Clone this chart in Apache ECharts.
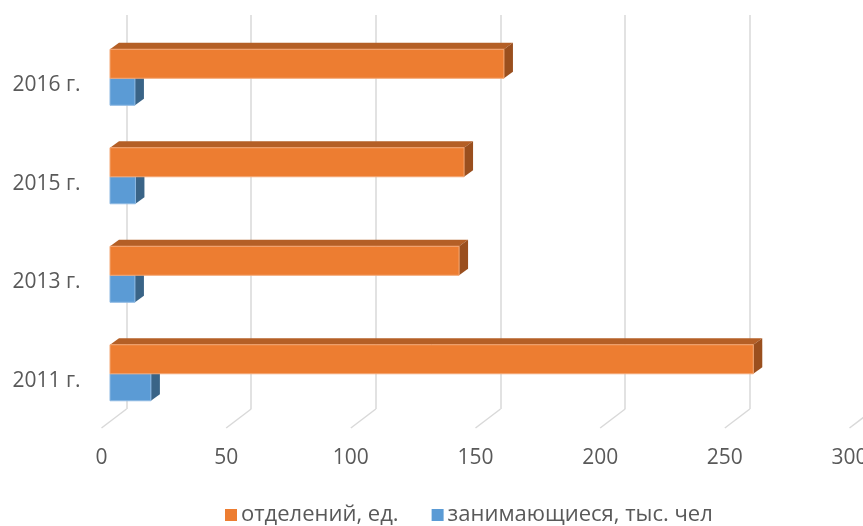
<!DOCTYPE html>
<html>
<head>
<meta charset="utf-8">
<script src="https://cdn.jsdelivr.net/npm/echarts@6/dist/echarts.min.js"></script>
<style>html,body{margin:0;padding:0;background:#fff}#c{width:863px;height:526px}</style>
</head>
<body>
<div id="c"></div>
<script>
const categories = ['2011 г.', '2013 г.', '2015 г.', '2016 г.'];
const otdeleniy = [258, 140, 142, 158];
const zanimayushchiesya = [16.4, 10, 10.2, 10];
const xTicks = [0, 50, 100, 150, 200, 250, 300];
const seriesNames = ['отделений, ед.', 'занимающиеся, тыс. чел'];

const FONT = 'Open Sans';
const TXT = '#595959';
const GRID = '#d9d9d9';
// projection offsets (px) from back wall to bar front face, and bar depth
const DX = -16.5, DY = 14;
const DEPTH_X = 9, DEPTH_Y = -6.5;
const H_UP = 29, H_DOWN = 27;

function barRender(front, top, side, stroke, upper) {
  return function (params, api) {
    const v = api.value(0), c = api.value(1);
    const p0 = api.coord([0, c]);
    const p1 = api.coord([v, c]);
    const x0 = p0[0] + DX, x1 = p1[0] + DX;
    const yb = p0[1] + DY;
    const yt = upper ? yb - H_UP : yb;
    const ybot = upper ? yb : yb + H_DOWN;
    return {
      type: 'group',
      children: [
        { type: 'polygon', shape: { points: [[x0, yt], [x0 + DEPTH_X, yt + DEPTH_Y], [x1 + DEPTH_X, yt + DEPTH_Y], [x1, yt]] }, style: { fill: top } },
        { type: 'polygon', shape: { points: [[x1, yt], [x1 + DEPTH_X, yt + DEPTH_Y], [x1 + DEPTH_X, ybot + DEPTH_Y], [x1, ybot]] }, style: { fill: side } },
        { type: 'rect', shape: { x: x0, y: yt, width: x1 - x0, height: ybot - yt }, style: { fill: front, stroke: stroke, lineWidth: 1 } }
      ]
    };
  };
}

const chart = echarts.init(document.getElementById('c'));
chart.setOption({
  animation: false,
  backgroundColor: '#fff',
  textStyle: { fontFamily: FONT },
  legend: {
    data: seriesNames,
    left: 220, top: 499,
    icon: 'rect', itemWidth: 12, itemHeight: 12, itemGap: 33,
    textStyle: { fontFamily: FONT, fontSize: 22, color: TXT, padding: [0, 0, 0, -1] }
  },
  grid: [
    { left: 126.5, width: 748, top: 15, height: 394, outerBoundsMode: 'none', containLabel: false },
    { left: 101.5, width: 748, top: 36, height: 394, outerBoundsMode: 'none', containLabel: false }
  ],
  xAxis: [
    { gridIndex: 0, type: 'value', min: 0, max: 300, interval: 50,
      axisLabel: { show: false }, axisLine: { show: false }, axisTick: { show: false },
      splitLine: { show: true, lineStyle: { color: GRID, width: 1.5 } } },
    { gridIndex: 1, type: 'value', min: 0, max: 300, interval: 50,
      axisLabel: { show: true, color: TXT, fontSize: 21, fontFamily: FONT, margin: 18 },
      axisLine: { show: false }, axisTick: { show: false }, splitLine: { show: false } }
  ],
  yAxis: [
    { gridIndex: 0, type: 'category', data: categories, show: false },
    { gridIndex: 1, type: 'category', data: categories,
      axisLabel: { color: TXT, fontSize: 21, fontFamily: FONT, margin: 21 },
      axisLine: { show: false }, axisTick: { show: false }, splitLine: { show: false } }
  ],
  series: [
    {
      type: 'custom', name: 'floor', xAxisIndex: 0, yAxisIndex: 0, silent: true, clip: false, z: 1,
      data: xTicks.map(t => [t, 0]), encode: { x: 0, y: 1 },
      renderItem: function (params, api) {
        const x = api.coord([api.value(0), 0])[0];
        const yb = params.coordSys.y + params.coordSys.height;
        return { type: 'line', shape: { x1: x, y1: yb, x2: x - 25, y2: yb + 19 }, style: { stroke: GRID, lineWidth: 1.5 } };
      }
    },
    {
      type: 'custom', name: seriesNames[1], xAxisIndex: 0, yAxisIndex: 0, clip: false, z: 2,
      itemStyle: { color: '#5B9BD5' },
      data: zanimayushchiesya.map((v, i) => [v, i]), encode: { x: 0, y: 1 },
      renderItem: barRender('#5B9BD5', '#4A7FB0', '#3A6487', '#8CB8E2', false)
    },
    {
      type: 'custom', name: seriesNames[0], xAxisIndex: 0, yAxisIndex: 0, clip: false, z: 3,
      itemStyle: { color: '#ED7D31' },
      data: otdeleniy.map((v, i) => [v, i]), encode: { x: 0, y: 1 },
      renderItem: barRender('#ED7D31', '#B45F26', '#9A4F1E', '#F3A774', true)
    }
  ]
});
</script>
</body>
</html>
